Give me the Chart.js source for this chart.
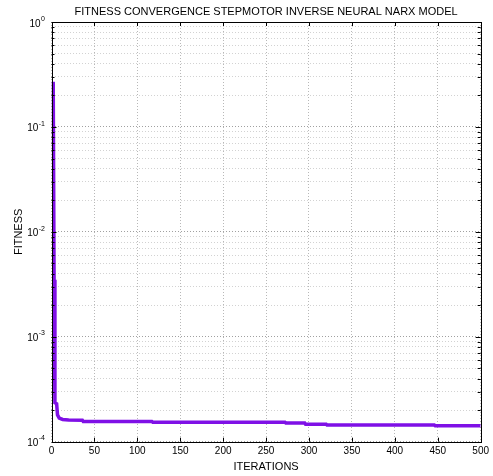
<!DOCTYPE html>
<html>
<head>
<meta charset="utf-8">
<script src="https://cdn.jsdelivr.net/npm/chart.js@4"></script>
<style>
  html, body { margin: 0; padding: 0; background: #fff; }
  #wrap { width: 493px; height: 476px; }
</style>
</head>
<body>
<div id="wrap"><canvas id="chart" width="493" height="476"></canvas></div>
<script>
// best fitness per iteration (only where it changes)
const iterations = [2, 3, 4, 6, 7, 9, 13, 20, 36, 37, 117, 118, 272, 273, 295, 296, 320, 321, 446, 447, 500];
const fitness = [0.27, 3.5e-3, 2.35e-4, 2.3e-4, 1.8e-4, 1.68e-4, 1.63e-4, 1.61e-4, 1.6e-4, 1.56e-4,
                 1.555e-4, 1.535e-4, 1.535e-4, 1.51e-4, 1.51e-4, 1.47e-4, 1.47e-4, 1.44e-4, 1.44e-4, 1.42e-4, 1.42e-4];

// axis ticks
const xTicks = [0, 50, 100, 150, 200, 250, 300, 350, 400, 450, 500];
const decades = [0, -1, -2, -3, -4];   // exponents labelled as 10^n
const minors = [2, 3, 4, 5, 6, 7, 8, 9];

const FONT = '"Liberation Sans", Arial, Helvetica, sans-serif';

// every 1..9 x 10^n between 1e-4 and 1
const yTicks = [];
decades.slice(1).forEach(e => {
    yTicks.push(Math.pow(10, e));
    minors.forEach(m => yTicks.push(m * Math.pow(10, e)));
});
yTicks.push(1);

function isDecade(v) {
    const l = Math.log10(v);
    return Math.abs(l - Math.round(l)) < 1e-9;
}

// box, inward tick marks and 10^n labels, MATLAB style
const frame = {
    id: 'frame',
    afterDraw(chart) {
        const { ctx, chartArea: a, scales: { x, y } } = chart;
        ctx.save();
        ctx.strokeStyle = '#000';
        ctx.lineWidth = 1;
        ctx.beginPath();
        x.ticks.forEach(t => {
            const px = Math.round(x.getPixelForValue(t.value)) + 0.5;
            ctx.moveTo(px, a.bottom); ctx.lineTo(px, a.bottom - 4);
            ctx.moveTo(px, a.top); ctx.lineTo(px, a.top + 4);
        });
        y.ticks.forEach(t => {
            const py = Math.round(y.getPixelForValue(t.value)) + 0.5;
            const len = isDecade(t.value) ? 5 : 3;
            ctx.moveTo(a.left, py); ctx.lineTo(a.left + len, py);
            ctx.moveTo(a.right, py); ctx.lineTo(a.right - len, py);
        });
        ctx.stroke();
        ctx.strokeRect(Math.round(a.left) + 0.5, Math.round(a.top) + 0.5,
            Math.round(a.right - a.left), Math.round(a.bottom - a.top));

        ctx.fillStyle = '#000';
        ctx.textAlign = 'right';
        ctx.textBaseline = 'alphabetic';
        decades.forEach(e => {
            const py = y.getPixelForValue(Math.pow(10, e));
            const sup = String(e);
            ctx.font = '7px ' + FONT;
            const sw = ctx.measureText(sup).width;
            ctx.fillText(sup, 45, py - 1.3);
            ctx.font = '10px ' + FONT;
            ctx.fillText('10', 45 - sw - 0.5, py + 4.5);
        });
        ctx.restore();
    }
};

new Chart(document.getElementById('chart'), {
    type: 'line',
    data: {
        datasets: [{
            data: iterations.map((it, i) => ({ x: it, y: fitness[i] })),
            borderColor: '#7f10e6',
            borderWidth: 3.5,
            pointRadius: 0,
            tension: 0,
            fill: false
        }]
    },
    options: {
        responsive: false,
        animation: false,
        devicePixelRatio: 1,
        layout: { padding: { left: 0, right: 8.5, top: 0, bottom: 0 } },
        plugins: {
            legend: { display: false },
            tooltip: { enabled: false },
            title: {
                display: true,
                fullSize: false,
                text: 'FITNESS CONVERGENCE STEPMOTOR INVERSE NEURAL NARX MODEL',
                color: '#000',
                font: { family: FONT, size: 11, weight: 'normal' },
                padding: { top: 5.6, bottom: 3.2 }
            }
        },
        scales: {
            x: {
                type: 'linear',
                min: 0,
                max: 500,
                afterBuildTicks: s => { s.ticks = xTicks.map(v => ({ value: v })); },
                afterFit: s => { s.height = 34.3; },
                ticks: { color: '#000', font: { family: FONT, size: 10 }, padding: 4, maxRotation: 0 },
                grid: { color: '#b8b8b8', drawTicks: false, lineWidth: 1 },
                border: { display: false, dash: [1, 2] },
                title: {
                    display: true,
                    text: 'ITERATIONS',
                    color: '#000',
                    font: { family: FONT, size: 11 },
                    padding: { top: 0, bottom: 2.4 }
                }
            },
            y: {
                type: 'logarithmic',
                min: 1e-4,
                max: 1,
                afterBuildTicks: s => { s.ticks = yTicks.map(v => ({ value: v, major: isDecade(v) })); },
                afterFit: s => { s.width = 51.5; },
                ticks: { display: false },
                grid: {
                    color: c => (c.tick && isDecade(c.tick.value)) ? '#a0a0a0' : '#d2d2d2',
                    drawTicks: false,
                    lineWidth: 1
                },
                border: { display: false, dash: [1, 2] },
                title: {
                    display: true,
                    text: 'FITNESS',
                    color: '#000',
                    font: { family: FONT, size: 11 },
                    padding: { top: 11.9, bottom: 0 }
                }
            }
        }
    },
    plugins: [frame]
});
</script>
</body>
</html>
